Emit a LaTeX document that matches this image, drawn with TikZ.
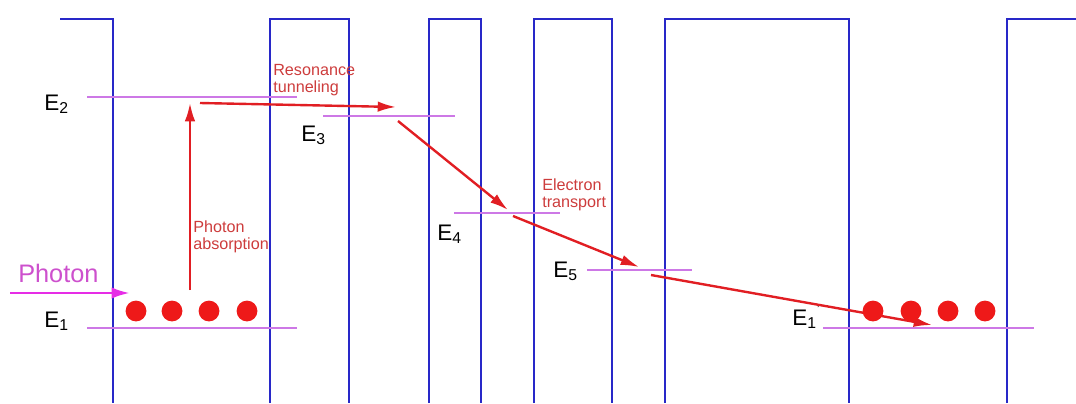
\documentclass[tikz,border=0pt]{standalone}
\usepackage{fontspec}
\setmainfont{Liberation Sans}
\usetikzlibrary{arrows.meta, positioning}
\definecolor{wellblue}{RGB}{40,40,200}
\definecolor{levelpink}{RGB}{205,120,230}
\definecolor{photonmag}{RGB}{230,45,230}
\definecolor{photontext}{RGB}{205,80,205}
\definecolor{hopred}{RGB}{225,30,35}
\definecolor{notered}{RGB}{205,60,60}
\definecolor{dotred}{RGB}{238,25,25}
\tikzset{
  wall/.style={draw=wellblue, line width=1.8pt},
  level/.style={draw=levelpink, line width=0.8pt},
  hop/.style={draw=hopred, line width=1.7pt, -{Latex[length=13pt,width=7.5pt]}},
  elabel/.style={anchor=base west, inner sep=0pt, font=\fontsize{16}{16}\selectfont},
  note/.style={anchor=base west, inner sep=0pt, align=left, text=notered, font=\fontsize{11.5}{12}\selectfont}
}
\begin{document}
\begin{tikzpicture}[x=0.025cm, y=-0.025cm]
  \useasboundingbox (0,0) rectangle (1076,403);

  % Wells and barriers
  \draw[wall] (60,19) -- (113,19) -- (113,403);
  \foreach \l/\r in {270/349, 429/481, 534/612, 665/849}
    \draw[wall] (\l,403) -- (\l,19) -- (\r,19) -- (\r,403);
  \draw[wall] (1007,403) -- (1007,19) -- (1076,19);

  % Energy levels
  \draw[level] (87,97) -- (297,97);
  \draw[level] (87,328) -- (297,328);
  \draw[level] (323,116) -- (455,116);
  \draw[level] (454,213) -- (560,213);
  \draw[level] (587,270) -- (692,270);
  \draw[level] (823,328) -- (1034,328);

  \node[elabel] (e2) at (44,110) {E\textsubscript{2}};
  \node[elabel] (e1) at (44,327) {E\textsubscript{1}};
  \node[elabel] (e3) at (301,141) {E\textsubscript{3}};
  \node[elabel] (e4) at (437,240) {E\textsubscript{4}};
  \node[elabel] (e5) at (553,277) {E\textsubscript{5}};
  \node[elabel] (e1p) at (792,325) {E\textsubscript{1}\raisebox{8.5pt}{\fontsize{9}{9}\selectfont '}};

  % Incoming photon
  \node[anchor=base west, inner sep=0pt, text=photontext, font=\fontsize{18}{18}\selectfont] (photon) at (18,282) {Photon};
  \coordinate (ph0) at (10,293);
  \coordinate (ph1) at (130,293);
  \draw[draw=photonmag, line width=2pt, -{Latex[length=13pt,width=8pt]}] (ph0) -- (ph1);

  % Electron path
  \coordinate (a0) at (190,290);
  \coordinate (a1) at (190,103);
  \coordinate (b0) at (200,103);
  \coordinate (b1) at (396,107);
  \coordinate (c0) at (398,121);
  \coordinate (c1) at (508,210);
  \coordinate (d0) at (513,216);
  \coordinate (d1) at (639,267);
  \coordinate (f0) at (651,275);
  \coordinate (f1) at (932,325);
  \draw[hop] (a0) -- (a1);
  \draw[hop] (b0) -- (b1);
  \draw[hop] (c0) -- (c1);
  \draw[hop] (d0) -- (d1);
  \draw[hop] (f0) -- (f1);

  \node[note] (absorb) at (193,249) {Photon\\absorption};
  \node[note] (tunnel) at (273,92) {Resonance\\tunneling};
  \node[note] (transport) at (542,207) {Electron\\transport};

  % Electrons
  \foreach \x in {136,172,209,247} \fill[dotred] (\x,311) circle (0.26cm);
  \foreach \x in {873,911,948,985} \fill[dotred] (\x,311) circle (0.26cm);
\end{tikzpicture}
\end{document}
